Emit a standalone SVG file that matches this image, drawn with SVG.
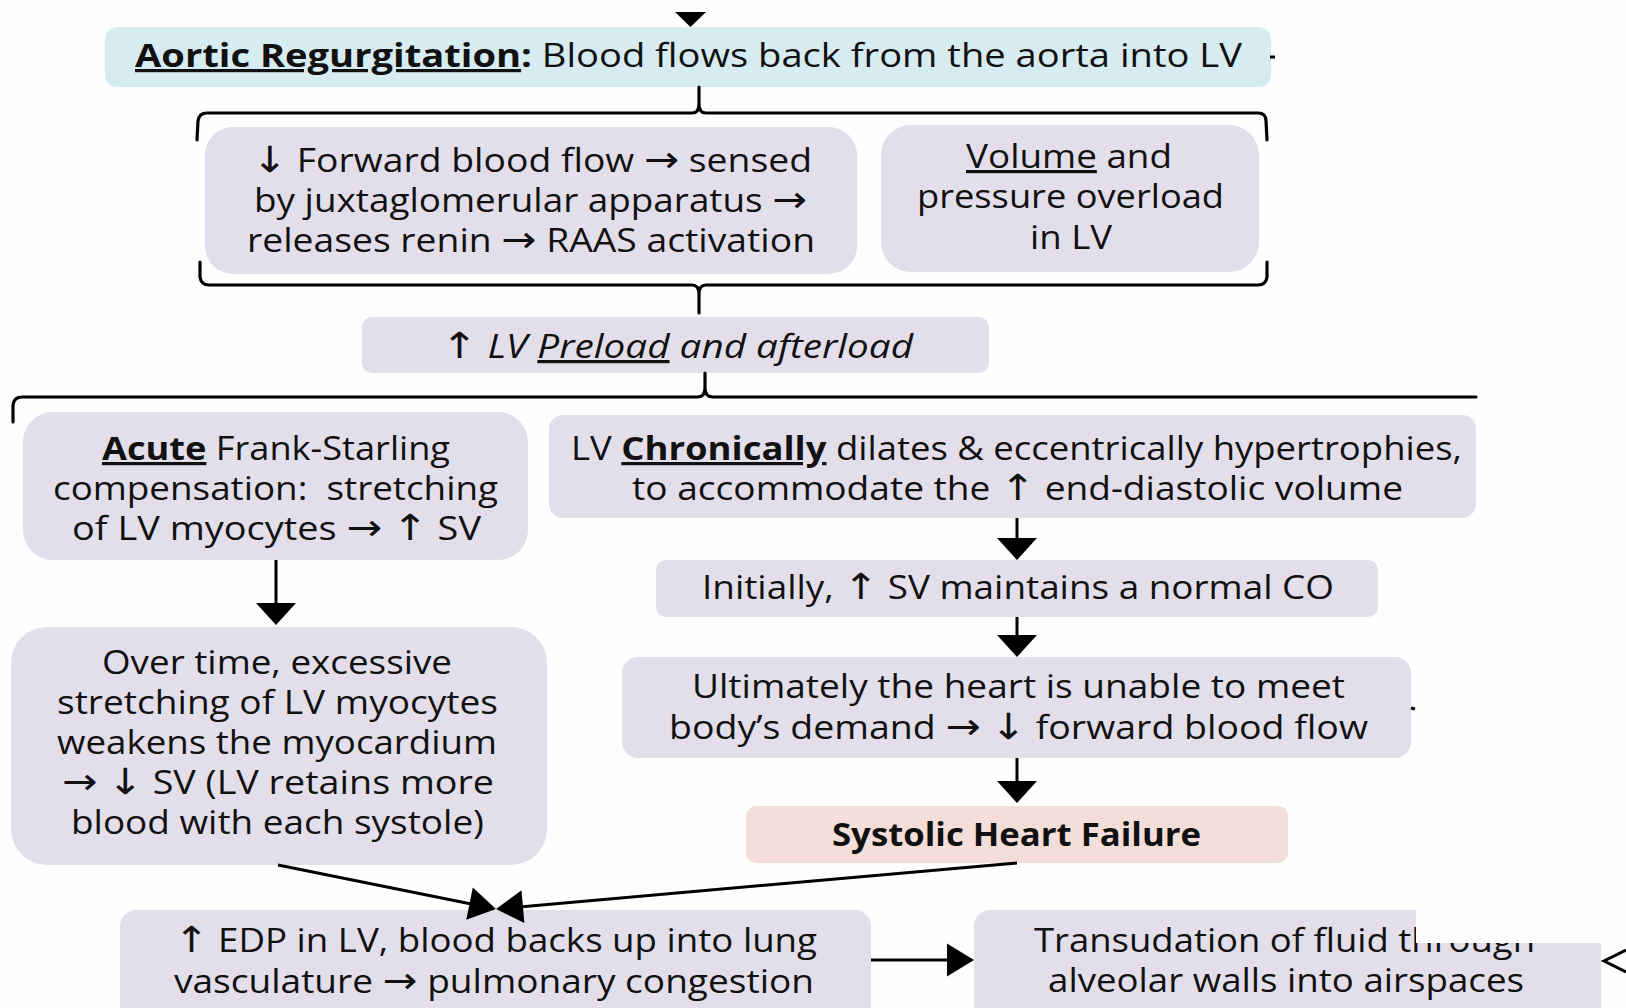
<svg xmlns="http://www.w3.org/2000/svg" width="1626" height="1008" viewBox="0 0 1626 1008">
<defs>
<style>
.bg{fill:#fefefe}
.nb{fill:#e3dfea}
.blue{fill:#d6ecf1}
.pink{fill:#f3ded9}
.t{font-family:"Open Sans","Liberation Sans",sans-serif;font-size:32px;fill:#111;text-anchor:middle}
.b{font-weight:bold}
.u{text-decoration:underline}
.i{font-style:italic}
.ar{font-family:"DejaVu Sans",sans-serif;font-style:normal;font-weight:normal;font-size:36px}
.ln{stroke:#000;stroke-width:3;fill:none}
.br{stroke:#000;stroke-width:3.2;fill:none;stroke-linecap:round;stroke-linejoin:round}
</style>
<marker id="ah" markerUnits="userSpaceOnUse" viewBox="-1 -21 24 42" markerWidth="24" markerHeight="42" refX="12" refY="0" orient="auto">
<path d="M0,-20 L22,0 L0,20 z" fill="#000"/>
</marker>
<marker id="ah2" markerUnits="userSpaceOnUse" viewBox="-1 -18 29 36" markerWidth="29" markerHeight="36" refX="17" refY="0" orient="auto">
<path d="M0,-16.5 L27,0 L0,16.5 z" fill="#000"/>
</marker>
</defs>
<rect class="bg" x="0" y="0" width="1626" height="1008"/>

<g id="n-aortic">
<rect class="blue" x="105" y="27" width="1166" height="60" rx="12"/>
<text class="t" x="688.5" y="67" textLength="1107" lengthAdjust="spacingAndGlyphs"><tspan class="b u">Aortic Regurgitation</tspan><tspan class="b">:</tspan> Blood flows back from the aorta into LV</text>
</g>

<g id="n-raas">
<rect class="nb" x="205" y="127" width="652" height="147" rx="28"/>
<text class="t" x="532" y="172" textLength="560" lengthAdjust="spacingAndGlyphs"><tspan class="ar">↓</tspan> Forward blood flow <tspan class="ar">→</tspan> sensed</text>
<text class="t" x="530.5" y="212" textLength="553" lengthAdjust="spacingAndGlyphs">by juxtaglomerular apparatus <tspan class="ar">→</tspan></text>
<text class="t" x="531" y="252" textLength="568" lengthAdjust="spacingAndGlyphs">releases renin <tspan class="ar">→</tspan> RAAS activation</text>
</g>

<g id="n-overload">
<rect class="nb" x="881" y="125" width="378" height="147" rx="30"/>
<text class="t" x="1069" y="168" textLength="206" lengthAdjust="spacingAndGlyphs"><tspan class="u">Volume</tspan> and</text>
<text class="t" x="1070.5" y="208" textLength="307" lengthAdjust="spacingAndGlyphs">pressure overload</text>
<text class="t" x="1071" y="249" textLength="82" lengthAdjust="spacingAndGlyphs">in LV</text>
</g>

<g id="n-preload">
<rect class="nb" x="362" y="317" width="627" height="56" rx="10"/>
<text class="t i" x="677" y="358" textLength="472" lengthAdjust="spacingAndGlyphs"><tspan class="ar">↑</tspan> LV <tspan class="u">Preload</tspan> and afterload</text>
</g>

<g id="n-acute">
<rect class="nb" x="23" y="412" width="505" height="148" rx="30"/>
<text class="t" x="276" y="460" textLength="348" lengthAdjust="spacingAndGlyphs"><tspan class="b u">Acute</tspan> Frank-Starling</text>
<text class="t" x="275.5" y="500" textLength="445" lengthAdjust="spacingAndGlyphs">compensation:&#160; stretching</text>
<text class="t" x="276.5" y="540" textLength="409" lengthAdjust="spacingAndGlyphs">of LV myocytes <tspan class="ar">→</tspan> <tspan class="ar">↑</tspan> SV</text>
</g>

<g id="n-chronic">
<rect class="nb" x="549" y="415" width="927" height="103" rx="14"/>
<text class="t" x="1016.5" y="460" textLength="891" lengthAdjust="spacingAndGlyphs">LV <tspan class="b u">Chronically</tspan> dilates &amp; eccentrically hypertrophies,</text>
<text class="t" x="1017.5" y="500" textLength="771" lengthAdjust="spacingAndGlyphs">to accommodate the <tspan class="ar">↑</tspan> end-diastolic volume</text>
</g>

<g id="n-overtime">
<rect class="nb" x="11" y="627" width="536" height="238" rx="36"/>
<text class="t" x="277" y="674" textLength="350" lengthAdjust="spacingAndGlyphs">Over time, excessive</text>
<text class="t" x="277.5" y="714" textLength="441" lengthAdjust="spacingAndGlyphs">stretching of LV myocytes</text>
<text class="t" x="277" y="754" textLength="440" lengthAdjust="spacingAndGlyphs">weakens the myocardium</text>
<text class="t" x="278" y="794" textLength="432" lengthAdjust="spacingAndGlyphs"><tspan class="ar">→</tspan> <tspan class="ar">↓</tspan> SV (LV retains more</text>
<text class="t" x="277.5" y="834" textLength="413" lengthAdjust="spacingAndGlyphs">blood with each systole)</text>
</g>

<g id="n-initially">
<rect class="nb" x="656" y="560" width="722" height="57" rx="10"/>
<text class="t" x="1018" y="599" textLength="632" lengthAdjust="spacingAndGlyphs">Initially, <tspan class="ar">↑</tspan> SV maintains a normal CO</text>
</g>

<g id="n-ultimately">
<rect class="nb" x="622" y="657" width="789" height="101" rx="16"/>
<text class="t" x="1018.5" y="698" textLength="653" lengthAdjust="spacingAndGlyphs">Ultimately the heart is unable to meet</text>
<text class="t" x="1018.5" y="739" textLength="699" lengthAdjust="spacingAndGlyphs">body’s demand <tspan class="ar">→</tspan> <tspan class="ar">↓</tspan> forward blood flow</text>
</g>

<g id="n-shf">
<rect class="pink" x="746" y="806" width="542" height="57" rx="10"/>
<text class="t b" x="1016.5" y="846" textLength="369" lengthAdjust="spacingAndGlyphs">Systolic Heart Failure</text>
</g>

<g id="n-edp">
<rect class="nb" x="120" y="910" width="751" height="120" rx="16"/>
<text class="t" x="495.5" y="952" textLength="643" lengthAdjust="spacingAndGlyphs"><tspan class="ar">↑</tspan> EDP in LV, blood backs up into lung</text>
<text class="t" x="494" y="993" textLength="640" lengthAdjust="spacingAndGlyphs">vasculature <tspan class="ar">→</tspan> pulmonary congestion</text>
</g>

<g id="n-transudation">
<rect class="nb" x="974" y="910" width="627" height="120" rx="16"/>
<text class="t" x="1284.5" y="952" textLength="501" lengthAdjust="spacingAndGlyphs">Transudation of fluid through</text>
<text class="t" x="1286" y="992" textLength="476" lengthAdjust="spacingAndGlyphs">alveolar walls into airspaces</text>
<rect class="bg" x="1416" y="907" width="210" height="36"/>
</g>

<g id="connectors">
<polygon points="675,12 706,12 690.5,27" fill="#000"/>
<path class="ln" d="M1270,57 L1275,57"/>
<path class="ln" d="M1411,708 L1415,709"/>
<path class="br" d="M197,140 L198,121 Q199,113 207,113 L692,113 Q699,113 699,104 L699,87 M699,104 Q699,113 706,113 L1258,113 Q1266,113 1266,121 L1267,140"/>
<path class="br" d="M200,262 L200,277 Q201,285 209,285 L692,285 Q699,285 699,294 L699,313 M699,294 Q699,285 706,285 L1258,285 Q1266,285 1267,277 L1267,262"/>
<path class="br" d="M13,422 L13,405 Q14,397 22,397 L697,397 Q705,397 705,388 L705,373 M705,388 Q705,397 713,397 L1476,397"/>
<line class="ln" x1="276" y1="560" x2="276" y2="615" marker-end="url(#ah)"/>
<line class="ln" x1="1017" y1="518" x2="1017" y2="550" marker-end="url(#ah)"/>
<line class="ln" x1="1017" y1="617" x2="1017" y2="647" marker-end="url(#ah)"/>
<line class="ln" x1="1017" y1="758" x2="1017" y2="793" marker-end="url(#ah)"/>
<line class="ln" x1="278" y1="865" x2="486.2" y2="907" marker-end="url(#ah2)"/>
<line class="ln" x1="1017" y1="863" x2="506" y2="908.1" marker-end="url(#ah2)"/>
<line class="ln" x1="871" y1="960" x2="964" y2="960" marker-end="url(#ah2)"/>
<polyline class="ln" points="1626,950 1604,961 1626,972"/>
</g>
</svg>
